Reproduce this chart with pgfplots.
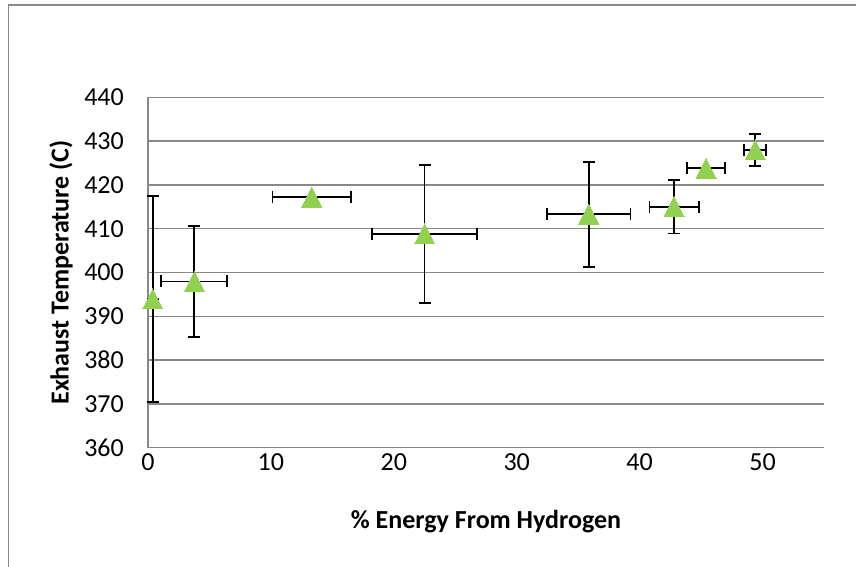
\documentclass[border=0pt]{standalone}
\usepackage{fontspec}
\setmainfont{Carlito}
\usepackage{pgfplots}
\pgfplotsset{compat=1.18}
\definecolor{gridgray}{HTML}{888888}
\definecolor{mkgreen}{HTML}{92D050}
\begin{document}
\fontsize{26bp}{31bp}\selectfont
\begin{tikzpicture}
\path[use as bounding box] (0,0) rectangle (856bp,567bp);
\draw[gridgray, line width=1.5bp] (8.5bp,0) -- (8.5bp,562bp) -- (856bp,562bp);
\begin{axis}[
  at={(148bp,119.3bp)}, anchor=south west,
  scale only axis, width=676bp, height=350.4bp,
  xmin=0, xmax=55, ymin=360, ymax=440,
  xtick={0,10,20,30,40,50}, ytick={360,370,...,440},
  axis x line*=bottom, axis y line*=left,
  axis line style={gridgray, line width=1.5bp, -},
  major tick length=0pt,
  ymajorgrids, grid style={gridgray, line width=1.5bp},
  /pgf/number format/assume math mode=true,
  ticklabel style={font=\fontsize{26bp}{31bp}\selectfont},
  yticklabel style={anchor=east, inner sep=0pt, xshift=-24bp},
  xticklabel style={anchor=north, inner sep=0pt, yshift=-6bp},
  xlabel={\textbf{\% Energy From Hydrogen}},
  ylabel={\textbf{Exhaust Temperature (C)}},
  label style={font=\fontsize{26bp}{31bp}\selectfont},
  xlabel style={at={(axis description cs:0.5,-0.212)}, anchor=center},
  ylabel style={at={(axis description cs:-0.1287,0.5)}, anchor=center, rotate=0},
  clip=false,
]
\addplot[draw=none, mark=none,
  error bars/.cd, x dir=both, x explicit, y dir=both, y explicit,
  error bar style={black, line width=1.8bp},
  error mark options={rotate=90, mark size=6bp, line width=1.8bp, black}]
  table[x=x, y=y, x error=ex, y error=ey] {
x     y      ex    ey
0.38  393.95 0     23.55
3.77  397.95 2.68  12.65
13.33 417.2  3.2   0
22.5  408.8  4.3   15.7
35.85 413.3  3.4   12.0
42.8  415.0  2.0   6.1
45.4  423.8  1.56  0
49.4  428.0  0.9   3.7
};
\addplot[only marks, color=mkgreen, mark=triangle*, mark size=11.55bp,
  mark options={draw=mkgreen, fill=mkgreen, line width=0pt, yshift=-3.3bp, yscale=1.155}]
  table[x=x, y=y] {
x     y
0.38  393.95
3.77  397.95
13.33 417.2
22.5  408.8
35.85 413.3
42.8  415.0
45.4  423.8
49.4  428.0
};
\end{axis}
\end{tikzpicture}
\end{document}
